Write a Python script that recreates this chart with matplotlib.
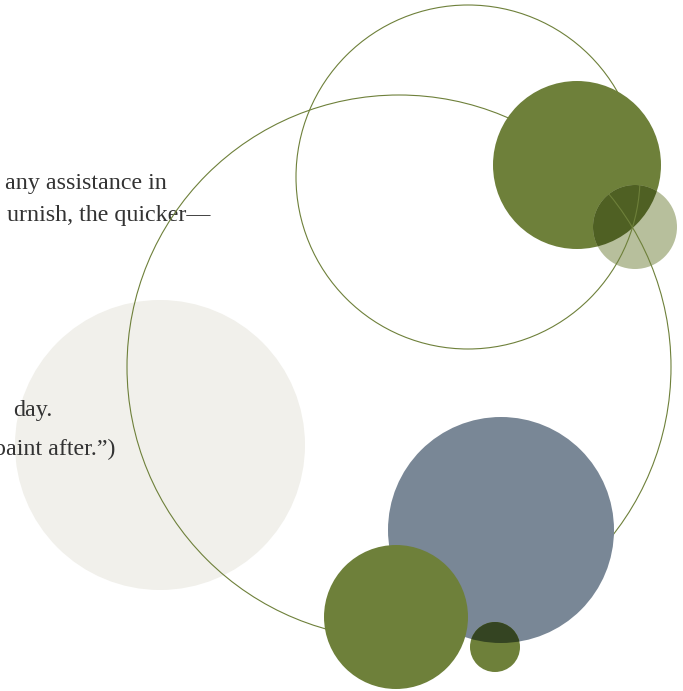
import matplotlib
matplotlib.use('Agg')
import matplotlib.pyplot as plt
from matplotlib.patches import Circle

# canvas in pixel units (y grows downward)
W, H = 683, 691

OLIVE = '#6e803a'
SLATE = '#798796'
BEIGE = '#f1f0eb'
PALE_OLIVE = '#b7bf9c'
INK = '#333333'

# filled discs: centre x, centre y, radius
beige_disc = (160, 445, 145)
big_olive = (577, 165, 84)
pale_disc = (635, 227, 42)
slate_disc = (501, 530, 113)
low_olive = (396, 617, 72)
small_disc = (495, 647, 25)

# outline rings
rings = [(468, 177, 172), (399, 367, 272)]

# text lines: right edge x, baseline y, string
text_lines = [
    (167, 189, 'any assistance in'),
    (210, 221, 'urnish, the quicker\u2014'),
    (52, 416, 'day.'),
    (115, 455, 'paint after.\u201d)'),
]


def disc(c, color, z, **kw):
    return Circle((c[0], c[1]), c[2], facecolor=color, edgecolor='none',
                  zorder=z, **kw)


fig = plt.figure(figsize=(W / 100, H / 100), dpi=100)
ax = fig.add_axes([0, 0, 1, 1])
ax.set_xlim(0, W)
ax.set_ylim(H, 0)
ax.set_aspect('equal')
ax.axis('off')

for x, y, s in text_lines:
    ax.text(x, y, s, ha='right', va='baseline', fontsize=17.3,
            family='Liberation Serif', color=INK, zorder=1.5)

ax.add_patch(disc(beige_disc, BEIGE, 1))
ax.add_patch(disc(big_olive, OLIVE, 1))
ax.add_patch(disc(pale_disc, PALE_OLIVE, 1.1))

# multiply-like overlap of the pale disc over the big olive one
ov = disc(pale_disc, '#4f6023', 1.2)
ax.add_patch(ov)
ov.set_clip_path(Circle((big_olive[0], big_olive[1]), big_olive[2],
                        transform=ax.transData))

for cx, cy, r in rings:
    ax.add_patch(Circle((cx, cy), r, facecolor='none', edgecolor=OLIVE,
                        linewidth=0.8, zorder=2))

ax.add_patch(disc(slate_disc, SLATE, 3))
ax.add_patch(disc(low_olive, OLIVE, 4))
ax.add_patch(disc(small_disc, OLIVE, 5))

ov2 = disc(small_disc, '#344422', 5.1)
ax.add_patch(ov2)
ov2.set_clip_path(Circle((slate_disc[0], slate_disc[1]), slate_disc[2],
                         transform=ax.transData))

fig.savefig('out.png', dpi=100)
